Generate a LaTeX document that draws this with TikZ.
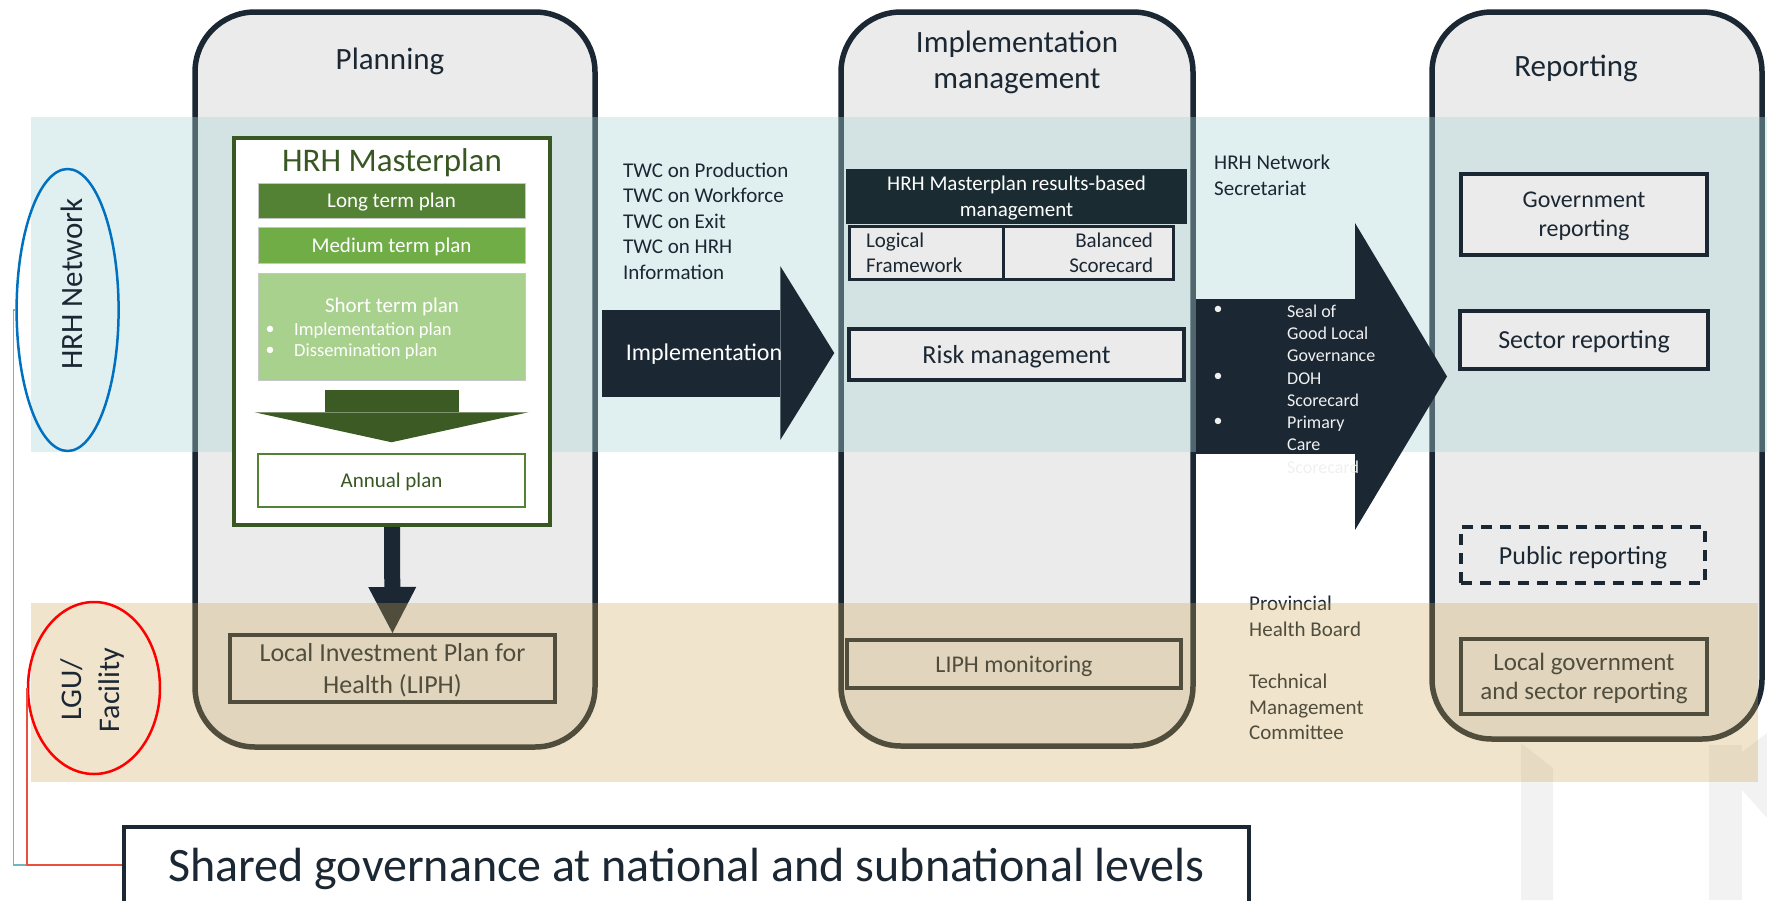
\documentclass[tikz,border=0pt]{standalone}
\usepackage{fontspec}
\setmainfont{Carlito}
\usetikzlibrary{arrows.meta,calc,shapes.geometric}

\definecolor{ink}{RGB}{27,40,51}
\definecolor{panel}{RGB}{235,235,235}
\definecolor{bandblue}{RGB}{171,212,215}
\definecolor{bandtan}{RGB}{205,165,85}
\definecolor{gdark}{RGB}{56,87,35}
\definecolor{glong}{RGB}{84,130,53}
\definecolor{gmed}{RGB}{112,173,71}
\definecolor{gshort}{RGB}{169,209,142}
\definecolor{garrow}{RGB}{59,90,36}
\definecolor{rbmfill}{RGB}{26,44,50}
\definecolor{hrhblue}{RGB}{0,112,192}
\definecolor{linkteal}{RGB}{112,182,190}
\definecolor{linkred}{RGB}{235,80,60}
\definecolor{markgray}{RGB}{242,242,242}
\definecolor{faint}{RGB}{240,240,240}

\newcommand{\fsz}[2]{\fontsize{#1}{#2}\selectfont}

\tikzset{
  stage/.style={draw=ink, fill=panel, line width=5.5pt, rounded corners=60pt, inner sep=0pt},
  stagetitle/.style={font=\fsz{31}{36}, text=ink, inner sep=0pt, align=center, text depth=0pt},
  cellbox/.style={draw=ink, fill=panel, line width=3pt, inner sep=0pt, text=ink, minimum height=53pt, font=\fsz{21}{25}},
  panelbox/.style={draw=ink, fill=panel, line width=4pt, inner sep=0pt, align=center, text=ink, text depth=0pt},
  tier/.style={minimum width=267pt, inner sep=0pt, text=white, font=\fsz{21}{25}, draw=gray!45, line width=0.8pt, text depth=0pt},
  plain/.style={inner sep=0pt, text=ink, align=left}
}

\begin{document}
\begin{tikzpicture}[x=1pt,y=-1pt]
\path[use as bounding box] (0,0) rectangle (1767,900);
\clip (0,0) rectangle (1767,900);

% faint logo marks in the lower right corner
\fill[markgray] (1521,743) -- (1553,768) -- (1553,900) -- (1521,900) -- cycle;
\fill[markgray] (1709,745) -- (1742,745) -- (1742,900) -- (1709,900) -- cycle;
\fill[markgray] (1742,752) -- (1767,733) -- (1767,818) -- (1742,790) -- cycle;

% the three stages
\node[stage, minimum width=400pt, minimum height=735pt] (planning) at (395,379.5) {};
\node[stage, minimum width=352pt, minimum height=734pt] (implmgmt) at (1017,379) {};
\node[stage, minimum width=330pt, minimum height=727pt] (reporting) at (1597,375.5) {};

\node[stagetitle] (planningtitle) at (390,59) {Planning};
\node[stagetitle] (impltitle) at (1017,60) {Implementation\\management};
\node[stagetitle] (reportingtitle) at (1576,66) {Reporting};

% national level band
\fill[bandblue, fill opacity=0.37] (31,117) rectangle (1767,452);

% HRH Masterplan
\node[draw=gdark, fill=white, line width=4pt, minimum width=316pt, minimum height=387pt, inner sep=0pt] (master) at (392,331.5) {};
\node[font=\fsz{33}{40}, text=gdark, inner sep=0pt, text depth=0pt] (mastertitle) at (392,160) {HRH Masterplan};
\node[tier, fill=glong, minimum height=35pt] (long) at (391.5,200.5) {Long term plan};
\node[tier, fill=gmed, minimum height=36pt] (medium) at (391.5,245) {Medium term plan};
\node[tier, fill=gshort, minimum height=107pt] (short) at (391.5,326.5) {};
\node[text=white, font=\fsz{21}{25}, inner sep=0pt, text depth=0pt] (shorttitle) at (392,305) {Short term plan};
\node[anchor=west, align=left, text=white, font=\fsz{18.5}{21}, inner sep=0pt] (shortlist) at (294,341) {Implementation plan\\Dissemination plan};
\node[text=white, font=\fsz{18}{21}, inner sep=0pt] (shortb1) at (270,330) {•};
\node[text=white, font=\fsz{18}{21}, inner sep=0pt] (shortb2) at (270,351) {•};
\node[tier, fill=white, draw=glong, line width=1.5pt, text=gdark, minimum height=53pt] (annual) at (391.5,480.5) {Annual plan};
\draw[garrow, line width=134pt, -{Triangle[width=274pt,length=30pt,line width=0pt]}]
  ($(short.south)+(0,10)$) -- ($(annual.north)+(0,-11)$);

% implementation management, national level
\node[fill=rbmfill, text=white, inner sep=0pt, align=center, font=\fsz{21}{26}, text depth=0pt, minimum width=341pt, minimum height=55pt] (rbm) at (1016.5,196.5) {HRH Masterplan results-based\\management};
\node[cellbox, text width=120pt, inner xsep=17pt, align=left] (logframe) at (926,252.5) {Logical\\Framework};
\node[cellbox, text width=130pt, inner xsep=20pt, align=right] (balanced) at (1088,252.5) {Balanced\\Scorecard};
\node[panelbox, minimum width=335pt, minimum height=51pt, font=\fsz{26}{31}] (risk) at (1016.5,354.5) {Risk management};

% reporting, national level
\node[panelbox, minimum width=246pt, minimum height=81pt, font=\fsz{24}{29}] (gov) at (1584,214.5) {Government\\reporting};
\node[panelbox, minimum width=248pt, minimum height=58pt, font=\fsz{26}{31}] (sector) at (1584,340) {Sector reporting};
\node[panelbox, dash pattern=on 11pt off 8pt, minimum width=244pt, minimum height=56pt, font=\fsz{26}{31}] (public) at (1583,555) {Public reporting};

% actors
\node[plain, anchor=west, font=\fsz{21}{25.5}] (twc) at (623,221) {TWC on Production\\TWC on Workforce\\TWC on Exit\\TWC on HRH\\Information};
\node[plain, anchor=west, font=\fsz{21}{26}] (secretariat) at (1214,175) {HRH Network\\Secretariat};

% local level items
\node[panelbox, minimum width=325pt, minimum height=67pt, font=\fsz{26}{32}] (liph) at (392.5,668.5) {Local Investment Plan for\\Health (LIPH)};
\draw[ink, line width=16pt, -{Triangle[width=48pt,length=46pt,line width=0pt]}] (master.south) -- (liph.north);
\node[panelbox, minimum width=334pt, minimum height=48pt, font=\fsz{24}{29}] (liphmon) at (1014,664) {LIPH monitoring};
\node[panelbox, minimum width=246pt, minimum height=75pt, font=\fsz{25}{29}] (localgov) at (1584,676.5) {Local government\\and sector reporting};
\node[plain, anchor=west, font=\fsz{21}{26}] (board) at (1249,616) {Provincial\\Health Board};
\node[plain, anchor=west, font=\fsz{21}{25.5}] (committee) at (1249,707) {Technical\\Management\\Committee};

% local level band
\fill[bandtan, fill opacity=0.3] (31,603) rectangle (1758,782);

% flow arrows
\coordinate (implrow) at (0,353);
\draw[ink, line width=87pt, -{Triangle[width=174pt,length=54pt,line width=0pt]}, shorten <=4pt, shorten >=4pt]
  (planning.east |- implrow) -- (implmgmt.west |- implrow);
\node[text=white, font=\fsz{24}{29}, inner sep=0pt] (impllabel) at (704,354) {Implementation};

\coordinate (reportrow) at (0,376.5);
\draw[ink, line width=155pt, -{Triangle[width=307pt,length=92pt,line width=0pt]}, shorten >=-17.75pt]
  (implmgmt.east |- reportrow) -- (reporting.west |- reportrow);
\node[text=faint, font=\fsz{18}{22}, inner sep=0pt] (rb1) at (1218,310) {•};
\node[text=faint, font=\fsz{18}{22}, inner sep=0pt] (rb2) at (1218,377) {•};
\node[text=faint, font=\fsz{18}{22}, inner sep=0pt] (rb3) at (1218,422) {•};
\node[anchor=west, align=left, text=faint, font=\fsz{18}{22.3}, inner sep=0pt] (scorecards) at (1287,389) {Seal of\\Good Local\\Governance\\DOH\\Scorecard\\Primary\\Care\\Scorecard};

% governance levels
\node[ellipse, draw=hrhblue, line width=2.5pt, minimum width=102pt, minimum height=282pt, inner sep=0pt] (hrh) at (67.6,310) {};
\node[rotate=90, font=\fsz{31}{36}, text=ink, inner sep=0pt] (hrhlabel) at (72,284) {HRH Network};
\node[ellipse, draw=red, line width=2.5pt, minimum width=132pt, minimum height=172pt, inner sep=0pt] (lgu) at (94,688) {};
\node[rotate=90, align=center, font=\fsz{30}{38}, text=ink, inner sep=0pt] (lgulabel) at (93,690) {LGU/\\Facility};

\node[draw=ink, fill=white, line width=4pt, minimum width=1125pt, minimum height=76pt, inner sep=0pt, font=\fsz{48}{56}, text=ink, text depth=0pt] (shared) at (686.5,865) {Shared governance at national and subnational levels};

\draw[linkteal, line width=1.5pt] (hrh.west) -- ++(-2,0) |- (shared.west);
\draw[linkred, line width=1.5pt] (lgu.west) |- (shared.west);
\end{tikzpicture}
\end{document}
